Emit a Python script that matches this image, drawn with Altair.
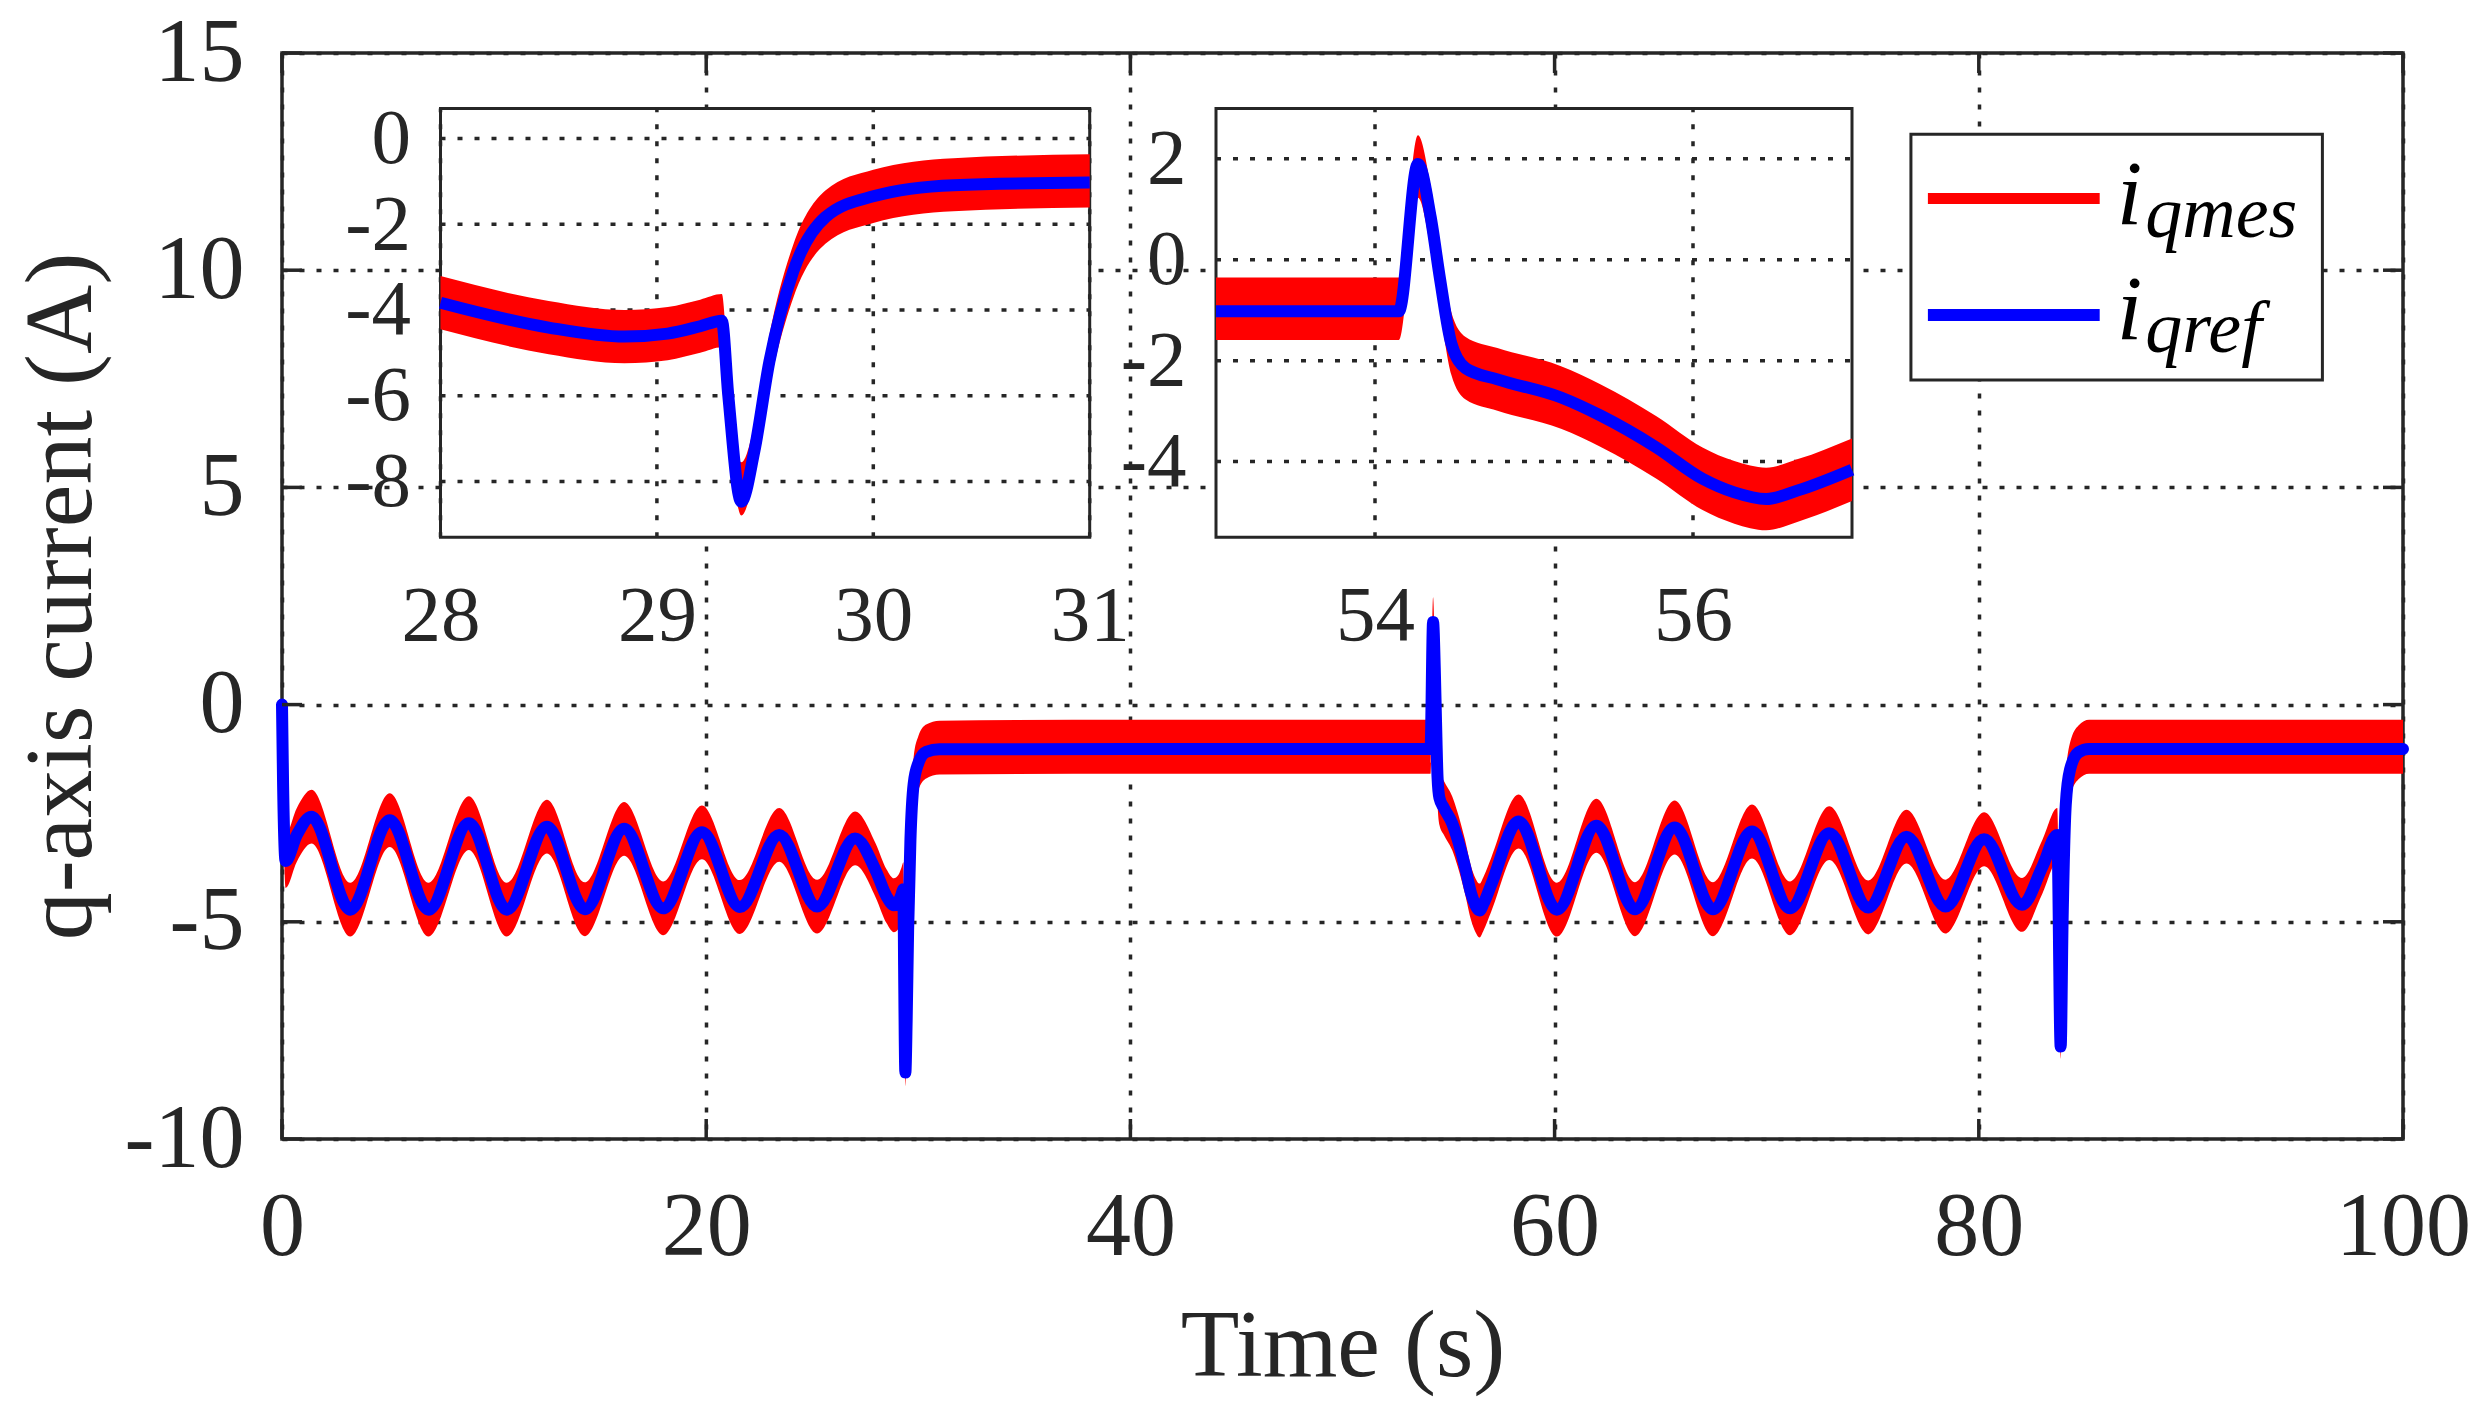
import altair as alt
import pandas as pd

# ---------------- data ----------------
t = [0.0, 0.05, 0.17, 0.7, 1.39, 3.22, 5.08, 6.91, 8.81, 10.6, 12.49, 14.28, 16.13,
     17.97, 19.8, 21.59, 23.44, 25.23, 27.02, 28.0, 28.5, 28.85, 29.05, 29.2, 29.3,
     29.33, 29.39, 29.45, 29.52, 29.63, 29.78, 30.0, 30.37, 31.0, 40.0, 53.0, 54.15,
     54.27, 54.35, 54.41, 54.48, 54.57, 54.77, 55.17, 55.42, 55.77, 56.06, 56.26,
     56.46, 56.66, 57.0, 58.3, 60.11, 61.97, 63.79, 65.66, 67.47, 69.31, 71.1, 72.95,
     74.79, 76.59, 78.43, 80.25, 82.04, 83.0, 83.7, 83.86, 83.95, 84.1, 84.3, 84.7,
     85.2, 100.0]

iqref = [0.0, -1.8, -3.6, -3.0, -2.58, -4.72, -2.66, -4.72, -2.73, -4.72, -2.81, -4.71,
         -2.86, -4.69, -2.94, -4.66, -3.0, -4.65, -3.08, -3.83, -4.41, -4.62, -4.55,
         -4.38, -4.25, -6.0, -8.47, -7.3, -5.2, -3.1, -1.83, -1.35, -1.09, -1.03, -1.02,
         -1.02, -1.02, 1.9, 0.85, -0.4, -1.66, -2.15, -2.37, -2.73, -3.09, -3.72, -4.34,
         -4.61, -4.74, -4.57, -4.16, -2.69, -4.72, -2.79, -4.71, -2.83, -4.71, -2.92,
         -4.69, -2.96, -4.67, -3.04, -4.65, -3.1, -4.61, -3.73, -3.0, -7.87, -5.0, -2.3,
         -1.5, -1.1, -1.02, -1.02]

iqmes = [-0.45, -1.8, -3.6, -3.0, -2.58, -4.72, -2.66, -4.72, -2.73, -4.72, -2.81, -4.71,
         -2.86, -4.69, -2.94, -4.66, -3.0, -4.65, -3.08, -3.83, -4.41, -4.62, -4.55,
         -4.38, -4.25, -6.0, -8.17, -7.3, -5.2, -3.1, -1.83, -1.35, -1.08, -0.99, -0.97,
         -0.97, -0.97, 1.85, 0.85, -0.4, -1.66, -2.15, -2.37, -2.73, -3.09, -3.72, -4.34,
         -4.61, -4.74, -4.57, -4.16, -2.69, -4.72, -2.79, -4.71, -2.83, -4.71, -2.92,
         -4.69, -2.96, -4.67, -3.04, -4.65, -3.1, -4.61, -3.73, -3.0, -7.53, -5.0, -2.3,
         -1.5, -1.1, -0.97, -0.97]

NOISE = 0.62  # half width of the measured (noisy) band

x_ticks_main = [0, 20, 40, 60, 80, 100]
y_ticks_main = [-10, -5, 0, 5, 10, 15]
inset1_xticks = [28, 29, 30, 31]
inset1_yticks = [0, -2, -4, -6, -8]
inset2_xticks = [54, 56]
inset2_yticks = [2, 0, -2, -4]
legend_subs = ["qmes", "qref"]

# ---------------- layout / style ----------------
W, H = 2121, 1086
FONT = "Liberation Serif"
INK = "#262626"
RED = "#FF0000"
BLUE = "#0000FF"
DASH = [5, 12]
GRIDW = 3.5
LABEL_EXPR = "datum.value < 0 ? '-' + (-datum.value) : '' + datum.value"

df = pd.DataFrame({"t": t, "iqref": iqref, "iqmes": iqmes})
df["lo"] = df["iqmes"] - NOISE
df["hi"] = df["iqmes"] + NOISE
one = pd.DataFrame({"k": [0]})


def sc(dom, rng=None):
    if rng is None:
        return alt.Scale(domain=dom, nice=False, zero=False)
    return alt.Scale(domain=dom, range=rng, nice=False, zero=False)


XM, YM = [0, 100], [-10, 15]

x_axis_main = alt.Axis(
    orient="bottom", values=x_ticks_main, grid=True, gridDash=DASH, gridColor=INK,
    gridWidth=GRIDW, gridOpacity=1, domain=False, ticks=False, labelFont=FONT,
    labelFontSize=90, labelColor=INK, labelPadding=44, labelFlush=False,
    labelExpr=LABEL_EXPR, title="Time (s)", titleFont=FONT, titleFontSize=96,
    titleFontWeight="normal", titleColor=INK, titleX=W / 2, titleY=236,
    titleBaseline="alphabetic", titleAlign="center")
y_axis_main = alt.Axis(
    orient="left", values=y_ticks_main, grid=True, gridDash=DASH, gridColor=INK,
    gridWidth=GRIDW, gridOpacity=1, domain=False, ticks=False, labelFont=FONT,
    labelFontSize=90, labelColor=INK, labelPadding=38, labelExpr=LABEL_EXPR,
    title="q-axis current (A)", titleFont=FONT, titleFontSize=96,
    titleFontWeight="normal", titleColor=INK, titleX=-192, titleY=H / 2,
    titleAngle=270, titleBaseline="alphabetic", titleAlign="center")

layers = []

# main series
layers.append(alt.Chart(df).mark_area(color=RED, opacity=1, interpolate="monotone").encode(
    x=alt.X("t:Q", scale=sc(XM), axis=x_axis_main),
    y=alt.Y("lo:Q", scale=sc(YM), axis=y_axis_main),
    y2="hi:Q"))
layers.append(alt.Chart(df).mark_line(color=BLUE, strokeWidth=12, interpolate="monotone",
                                      strokeJoin="round", strokeCap="round").encode(
    x=alt.X("t:Q", scale=sc(XM), axis=None),
    y=alt.Y("iqref:Q", scale=sc(YM), axis=None)))

# inward ticks of the main box
xt = pd.DataFrame({"v": x_ticks_main})
yt = pd.DataFrame({"v": y_ticks_main})
for y0, y1 in [(H, H - 20), (0, 20)]:
    layers.append(alt.Chart(xt).mark_rule(color=INK, strokeWidth=3.5).encode(
        x=alt.X("v:Q", scale=sc(XM), axis=None), y=alt.value(y0), y2=alt.value(y1)))
for x0, x1 in [(0, 20), (W, W - 20)]:
    layers.append(alt.Chart(yt).mark_rule(color=INK, strokeWidth=3.5).encode(
        y=alt.Y("v:Q", scale=sc(YM), axis=None), x=alt.value(x0), x2=alt.value(x1)))

# legend (in main data coordinates)
layers.append(alt.Chart(one).mark_rect(fill="white", stroke=INK, strokeWidth=3).encode(
    x=alt.X(datum=76.8, scale=sc(XM), axis=None), x2=alt.datum(96.2),
    y=alt.Y(datum=7.47, scale=sc(YM), axis=None), y2=alt.datum(13.13)))
for col, ly, w in [(RED, 11.65, 11), (BLUE, 8.97, 12)]:
    layers.append(alt.Chart(one).mark_rule(color=col, strokeWidth=w).encode(
        x=alt.X(datum=77.6, scale=sc(XM), axis=None), x2=alt.datum(85.7),
        y=alt.Y(datum=ly, scale=sc(YM), axis=None)))
for sub, yi, ys in [(legend_subs[0], 11.07, 10.76), (legend_subs[1], 8.42, 8.11)]:
    layers.append(alt.Chart(one).mark_text(text="i", font=FONT, fontStyle="italic",
                                           fontSize=92, align="left",
                                           baseline="alphabetic", color="black").encode(
        x=alt.X(datum=86.5, scale=sc(XM), axis=None),
        y=alt.Y(datum=yi, scale=sc(YM), axis=None)))
    layers.append(alt.Chart(pd.DataFrame({"s": [sub]})).mark_text(
        font=FONT, fontStyle="italic", fontSize=74, align="left",
        baseline="alphabetic", color="black").encode(
        x=alt.X(datum=87.85, scale=sc(XM), axis=None),
        y=alt.Y(datum=ys, scale=sc(YM), axis=None), text="s:N"))


def inset(xdom, ydom, xr, yr, xticks, yticks):
    out = []
    out.append(alt.Chart(one).mark_rect(fill="white", stroke=INK, strokeWidth=3).encode(
        x=alt.X(datum=xdom[0], scale=sc(xdom, xr), axis=None), x2=alt.datum(xdom[1]),
        y=alt.Y(datum=ydom[0], scale=sc(ydom, yr), axis=None), y2=alt.datum(ydom[1])))
    out.append(alt.Chart(pd.DataFrame({"v": xticks})).mark_rule(
        color=INK, strokeWidth=GRIDW, strokeDash=DASH).encode(
        x=alt.X("v:Q", scale=sc(xdom, xr), axis=None),
        y=alt.Y(datum=ydom[0], scale=sc(ydom, yr), axis=None), y2=alt.datum(ydom[1])))
    out.append(alt.Chart(pd.DataFrame({"v": yticks})).mark_rule(
        color=INK, strokeWidth=GRIDW, strokeDash=DASH).encode(
        y=alt.Y("v:Q", scale=sc(ydom, yr), axis=None),
        x=alt.X(datum=xdom[0], scale=sc(xdom, xr), axis=None), x2=alt.datum(xdom[1])))
    filt = f"datum.t >= {xdom[0]} && datum.t <= {xdom[1]}"
    xa = alt.Axis(orient="bottom", offset=yr[0] - H, values=xticks, grid=False,
                  domain=False, ticks=False, labelFont=FONT, labelFontSize=79,
                  labelColor=INK, labelPadding=40, labelFlush=False,
                  labelExpr=LABEL_EXPR, title=None)
    ya = alt.Axis(orient="left", offset=-xr[0], values=yticks, grid=False,
                  domain=False, ticks=False, labelFont=FONT, labelFontSize=79,
                  labelColor=INK, labelPadding=30, labelExpr=LABEL_EXPR, title=None)
    out.append(alt.Chart(df).transform_filter(filt).mark_area(
        color=RED, opacity=1, interpolate="monotone").encode(
        x=alt.X("t:Q", scale=sc(xdom, xr), axis=xa),
        y=alt.Y("lo:Q", scale=sc(ydom, yr), axis=ya), y2="hi:Q"))
    out.append(alt.Chart(df).transform_filter(filt).mark_line(
        color=BLUE, strokeWidth=12, interpolate="monotone", strokeJoin="round",
        strokeCap="butt").encode(
        x=alt.X("t:Q", scale=sc(xdom, xr), axis=None),
        y=alt.Y("iqref:Q", scale=sc(ydom, yr), axis=None)))
    return out


layers += inset([28, 31], [-9.3, 0.7], [158.5, 807.7], [484.3, 55.4],
                inset1_xticks, inset1_yticks)
layers += inset([53, 57], [-5.5, 3.0], [934, 1570], [484.3, 55.4],
                inset2_xticks, inset2_yticks)

chart = alt.layer(*layers).resolve_scale(
    x="independent", y="independent").resolve_axis(
    x="independent", y="independent").properties(
    width=W, height=H,
    autosize=alt.AutoSizeParams(type="none"),
    padding={"left": 274, "top": 45, "right": 77, "bottom": 270},
    background="white").configure_view(stroke=INK, strokeWidth=3.5)

chart.save("out.html", embed_options={"renderer": "svg", "actions": False})
